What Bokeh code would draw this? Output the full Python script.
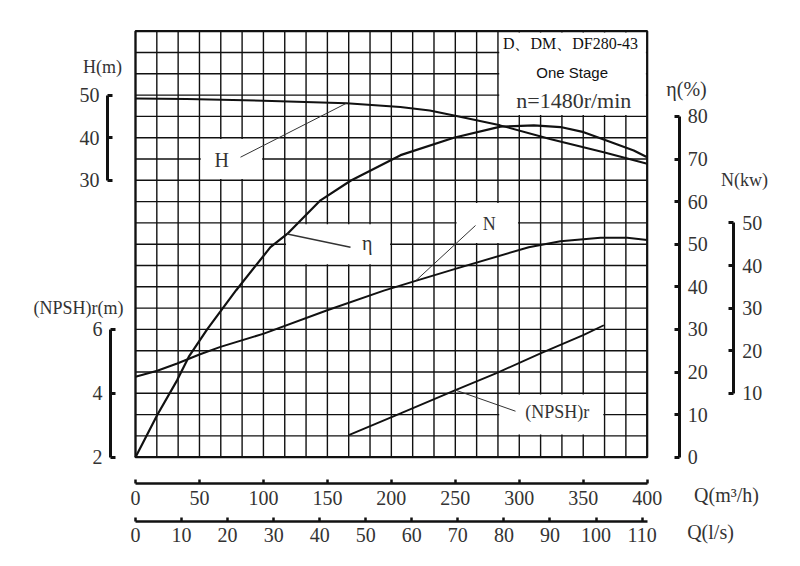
import numpy as np
from bokeh.plotting import figure
from bokeh.models import Range1d, LinearAxis, FixedTicker, Label
from bokeh.embed import file_html
from bokeh.resources import INLINE

# ---------------- data ----------------
# Head curve  H (m) vs Q (m3/h)
q_h = [0, 40, 100, 165, 207, 230, 249, 285, 324, 366, 400]
head = [49.2, 49.1, 48.7, 48.1, 47.2, 46.4, 45.2, 42.9, 39.7, 36.6, 33.9]

# Efficiency curve  eta (%)
q_eff = [0, 17, 32.6, 41.7, 56, 78.7, 105.5, 118.6, 144.6, 168.1, 207.2,
         248.8, 285.3, 311.4, 332.2, 350.4, 368.7, 389.5, 400]
eff = [0, 9.9, 18.1, 23.6, 30.0, 39.2, 49.3, 52.4, 60.3, 64.9, 70.9,
       75.0, 77.6, 77.9, 77.5, 76.3, 74.3, 72.0, 70.4]

# Shaft power curve  N (kW)
q_pow = [0, 17, 32.6, 50, 66.4, 100.3, 149.9, 194.1, 219, 250, 307.4,
         332.2, 363.5, 384.4, 400]
power = [13.9, 15.3, 17.0, 19.1, 20.9, 24.0, 29.5, 34.1, 36.4, 39.2, 44.3,
         45.7, 46.5, 46.5, 46.0]

# Required NPSH curve  (NPSH)r (m)
q_npsh = [166.7, 207.2, 250.1, 282.7, 316.6, 350, 366.1]
npsh = [2.69, 3.37, 4.10, 4.64, 5.25, 5.82, 6.13]

# axis ticks
q_ticks = [0, 50, 100, 150, 200, 250, 300, 350, 400]
qls_ticks = [0, 10, 20, 30, 40, 50, 60, 70, 80, 90, 100, 110]
h_ticks = [30, 40, 50]
npsh_ticks = [2, 4, 6]
eff_ticks = [0, 10, 20, 30, 40, 50, 60, 70, 80]
pow_ticks = [10, 20, 30, 40, 50]

# ---------------- layout helpers (page pixels -> main data units) ----------------
W, H = 796, 562                     # figure size
GX0, GX1 = 135.0, 646.7             # grid left / right (px)
GY0, GY1 = 30.7, 456.7              # grid top / bottom (px)

def px_x(px):                       # -> Q (m3/h)
    return (px - GX0) * 400.0 / (GX1 - GX0)

def px_y(py):                       # -> eta (%) units
    return (GY1 - py) * 100.0 / (GY1 - GY0)

# relations between the vertical scales (main unit = eta %)
# H = eta - 35 ; N = eta - 5 ; NPSH = eta/7.5 + 2 ; Q(l/s) = Q(m3/h)/3.6
X0, X1 = px_x(0), px_x(W)
Y0, Y1 = px_y(H), px_y(0)

FONT = "Liberation Serif"
INK = "#111111"
TXT = "#333333"

p = figure(width=W, height=H,
           x_range=Range1d(X0, X1), y_range=Range1d(Y0, Y1),
           x_axis_type=None, y_axis_type=None,
           output_backend="svg", toolbar_location=None,
           min_border=0, outline_line_color=None,
           background_fill_color="white", border_fill_color="white")
p.extra_y_ranges = {
    "h": Range1d(Y0 - 35, Y1 - 35),
    "n": Range1d(Y0 - 5, Y1 - 5),
    "npsh": Range1d(Y0 / 7.5 + 2, Y1 / 7.5 + 2),
}
p.extra_x_ranges = {"ls": Range1d(X0 / 3.6, X1 / 3.6)}

# ---------------- grid (24 x 20 cells) ----------------
NC, NR = 24, 20
gx = np.linspace(0, 400, NC + 1)
gy = np.linspace(0, 100, NR + 1)
p.segment(x0=gx, y0=0, x1=gx, y1=100, line_color=INK, line_width=1.4)
p.segment(x0=0, y0=gy, x1=400, y1=gy, line_color=INK, line_width=1.4)

# blank cells behind the text labels (col0, col1, row0, row1)
cw, rh = 400 / NC, 100 / NR
boxes = [(3, 6, 13, 15), (7, 12, 9, 11), (15, 18, 10, 12), (17, 22, 1, 3), (17, 24, 16, 20)]
dx, dy = 1.0, 0.3
p.quad(left=[b[0] * cw + dx for b in boxes], right=[b[1] * cw - dx for b in boxes],
       bottom=[b[2] * rh + dy for b in boxes], top=[b[3] * rh - dy for b in boxes],
       fill_color="white", line_color=None)
p.quad(left=0, right=400, bottom=0, top=100, fill_color=None, line_color=INK, line_width=2.2)

# ---------------- curves ----------------
p.line(q_h, head, y_range_name="h", line_color=INK, line_width=2)
p.line(q_eff, eff, line_color=INK, line_width=2.2)
p.line(q_pow, power, y_range_name="n", line_color=INK, line_width=2)
p.line(q_npsh, npsh, y_range_name="npsh", line_color=INK, line_width=1.8)

# leader lines from curve points to the curve names
LC = "#333333"
p.line([q_h[3], px_x(240)], [head[3], px_y(156.7) - 35], y_range_name="h", line_color=LC, line_width=1)
p.line([q_eff[7], px_x(350)], [eff[7], px_y(246.7)], line_color=LC, line_width=1.4)
p.line([q_pow[8], px_x(475)], [power[8], px_y(225) - 5], y_range_name="n", line_color=LC, line_width=1)
p.line([q_npsh[2], px_x(515)], [npsh[2], px_y(410.7) / 7.5 + 2], y_range_name="npsh", line_color=LC, line_width=1)

# ---------------- axes (placed at fixed positions) ----------------
def bar_axis(ax, tick_in=5, lw=3, standoff=8):
    ax.major_tick_in = tick_in
    ax.major_tick_out = 0
    ax.minor_tick_in = 0
    ax.minor_tick_out = 0
    ax.axis_line_width = lw
    ax.axis_line_color = INK
    ax.major_tick_line_width = lw
    ax.major_tick_line_color = INK
    ax.major_label_text_font = FONT
    ax.major_label_text_font_size = "20px"
    ax.major_label_text_color = TXT
    ax.major_label_standoff = standoff
    return ax

ax_h = bar_axis(LinearAxis(y_range_name="h", bounds=(30, 50), ticker=FixedTicker(ticks=h_ticks)))
ax_h.fixed_location = px_x(107)
ax_np = bar_axis(LinearAxis(y_range_name="npsh", bounds=(2, 6), ticker=FixedTicker(ticks=npsh_ticks)))
ax_np.fixed_location = px_x(110)
p.add_layout(ax_h, "left")
p.add_layout(ax_np, "left")

ax_eff = bar_axis(LinearAxis(bounds=(0, 80), ticker=FixedTicker(ticks=eff_ticks)))
ax_eff.fixed_location = px_x(679.3)
ax_pow = bar_axis(LinearAxis(y_range_name="n", bounds=(10, 50), ticker=FixedTicker(ticks=pow_ticks)), standoff=9)
ax_pow.fixed_location = px_x(732.7)
p.add_layout(ax_eff, "right")
p.add_layout(ax_pow, "right")

ax_q = bar_axis(LinearAxis(bounds=(0, 400), ticker=FixedTicker(ticks=q_ticks)), tick_in=4, lw=2.5, standoff=7)
ax_q.fixed_location = px_y(483)
ax_ls = bar_axis(LinearAxis(x_range_name="ls", bounds=(0, 400 / 3.6), ticker=FixedTicker(ticks=qls_ticks)), tick_in=4, lw=2.5, standoff=7)
ax_ls.fixed_location = px_y(520.7)
p.add_layout(ax_q, "below")
p.add_layout(ax_ls, "below")

# ---------------- texts ----------------
def lab(xp, yp, text, size, font=FONT, color=TXT):
    p.add_layout(Label(x=px_x(xp), y=px_y(yp), text=text, text_font=font, text_font_size=size,
                       text_color=color, text_align="center", text_baseline="middle"))

lab(102, 66, "H(m)", "18px")
lab(686, 88, "η(%)", "20px")
lab(744, 179.5, "N(kw)", "18px")
lab(78, 307.5, "(NPSH)r(m)", "18px")
lab(726, 494, "Q(m³/h)", "20px")
lab(710, 531.5, "Q(l/s)", "20px")

lab(221.3, 159, "H", "20px")
lab(366.7, 242.5, "η", "20px")
lab(488.7, 223.3, "N", "18px")
lab(556.7, 411.7, "(NPSH)r", "18px")

lab(570, 43.3, "D、DM、DF280-43", "16px", color=INK)
lab(571.7, 71.7, "One Stage", "15px", font="Liberation Sans", color=INK)
lab(573.3, 100, "n=1480r/min", "22px")

open("out.html", "w").write(file_html(p, INLINE))
